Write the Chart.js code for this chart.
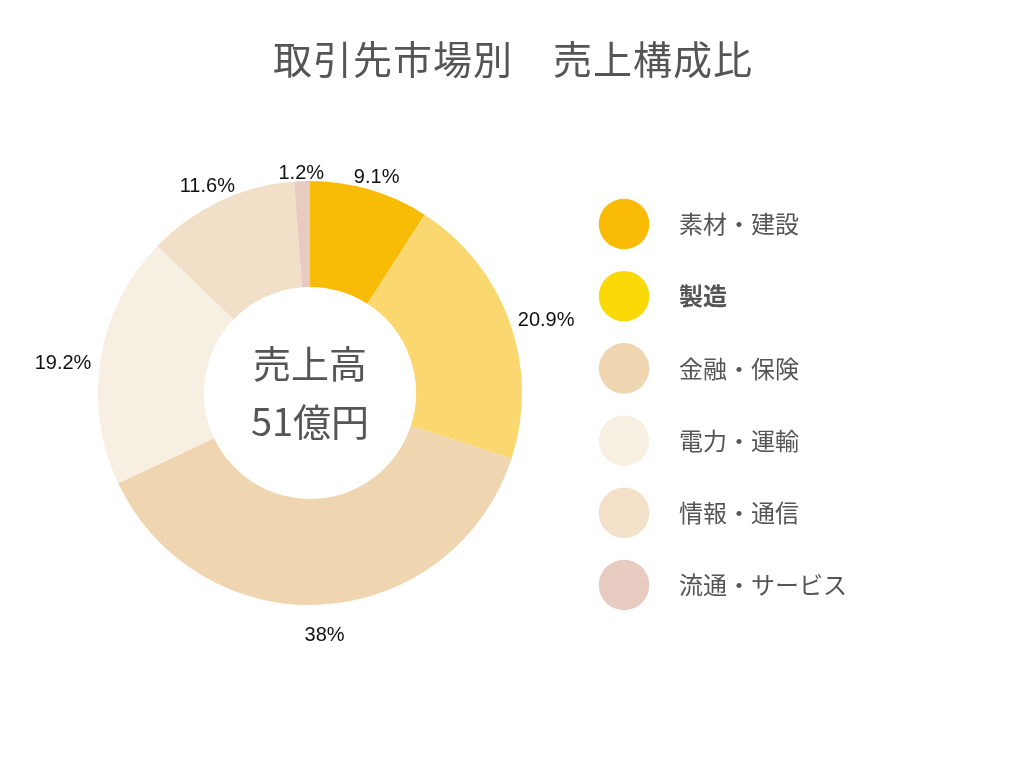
<!DOCTYPE html>
<html><head><meta charset="utf-8">
<script src="https://cdn.jsdelivr.net/npm/chart.js@4/dist/chart.umd.min.js"></script>
<style>html,body{margin:0;padding:0;background:#fff}#wrap{width:1024px;height:768px}</style>
</head><body><div id="wrap"><canvas id="c" width="1024" height="768"></canvas></div>
<script>
const titleText = '取引先市場別　売上構成比';
const categories = ['素材・建設', '製造', '金融・保険', '電力・運輸', '情報・通信', '流通・サービス'];
const shares = [9.1, 20.9, 38, 19.2, 11.6, 1.2];
const shareLabels = ['9.1%', '20.9%', '38%', '19.2%', '11.6%', '1.2%'];
const sliceColors = ['#F9BC06', '#FBD86F', '#EFD6B0', '#F8EFE3', '#F1DFC7', '#E7CBC0'];
const legendColors = ['#F9BB06', '#F9DA06', '#EFD6B1', '#F8EFE3', '#F2E0C9', '#E7CBC1'];
const boldLegend = [false, true, false, false, false, false];
const centerLines = ['売上高', '51億円'];

const JP = '"Noto Sans CJK JP", "Noto Sans", sans-serif';
const LAT = '"Liberation Sans", Arial, sans-serif';

const titlePlugin = {
  id: 'pageTitle',
  afterDraw(chart) {
    const ctx = chart.ctx;
    ctx.save();
    ctx.font = '39px ' + JP;
    ctx.fillStyle = '#555555';
    ctx.textAlign = 'center';
    ctx.textBaseline = 'middle';
    if ('letterSpacing' in ctx) ctx.letterSpacing = '1px';
    ctx.fillText(titleText, chart.width / 2 + 1, 59);
    ctx.restore();
  }
};

const labelPlugin = {
  id: 'outerLabels',
  afterDatasetsDraw(chart) {
    const ctx = chart.ctx;
    const meta = chart.getDatasetMeta(0);
    ctx.save();
    ctx.font = '20px ' + LAT;
    ctx.fillStyle = '#111111';
    ctx.textAlign = 'center';
    ctx.textBaseline = 'middle';
    meta.data.forEach((arc, i) => {
      const p = arc.getProps(['x', 'y', 'startAngle', 'endAngle', 'outerRadius'], true);
      const mid = (p.startAngle + p.endAngle) / 2;
      const dx = Math.cos(mid), dy = Math.sin(mid);
      const w = ctx.measureText(shareLabels[i]).width;
      const h = 19;
      const support = Math.abs(dx) * w / 2 + Math.abs(dy) * h / 2;
      const d = p.outerRadius + 8.8 + support;
      ctx.fillText(shareLabels[i], p.x + dx * d, p.y + dy * d + 11.5);
    });
    ctx.restore();
  }
};

const centerPlugin = {
  id: 'centerText',
  afterDatasetsDraw(chart) {
    const ctx = chart.ctx;
    const arc = chart.getDatasetMeta(0).data[0];
    const {x, y} = arc.getProps(['x', 'y'], true);
    ctx.save();
    ctx.font = '38px ' + JP;
    ctx.fillStyle = '#555555';
    ctx.textAlign = 'center';
    ctx.textBaseline = 'middle';
    ctx.fillText(centerLines[0], x, y - 29);
    ctx.fillText(centerLines[1], x, y + 29);
    ctx.restore();
  }
};

const legendPlugin = {
  id: 'sideLegend',
  afterDraw(chart) {
    const ctx = chart.ctx;
    const area = chart.chartArea;
    const cx = area.right + 102;
    const r = 25.3;
    const top = area.top + 43;
    const step = 72.2;
    ctx.save();
    categories.forEach((name, i) => {
      const yy = top + step * i;
      ctx.beginPath();
      ctx.arc(cx, yy, r, 0, Math.PI * 2);
      ctx.fillStyle = legendColors[i];
      ctx.fill();
      ctx.font = (boldLegend[i] ? 'bold ' : '') + '24px ' + JP;
      ctx.fillStyle = '#555555';
      ctx.textAlign = 'left';
      ctx.textBaseline = 'middle';
      ctx.fillText(name, cx + 55, yy);
    });
    ctx.restore();
  }
};

new Chart(document.getElementById('c'), {
  type: 'doughnut',
  data: {
    labels: categories,
    datasets: [{
      data: shares,
      backgroundColor: sliceColors,
      borderWidth: 0
    }]
  },
  options: {
    responsive: false,
    animation: false,
    cutout: '50%',
    layout: { padding: { left: 98, right: 502, top: 181, bottom: 163 } },
    plugins: {
      legend: { display: false },
      tooltip: { enabled: false },
      title: { display: false }
    }
  },
  plugins: [labelPlugin, centerPlugin, legendPlugin, titlePlugin]
});
</script>
</body></html>
